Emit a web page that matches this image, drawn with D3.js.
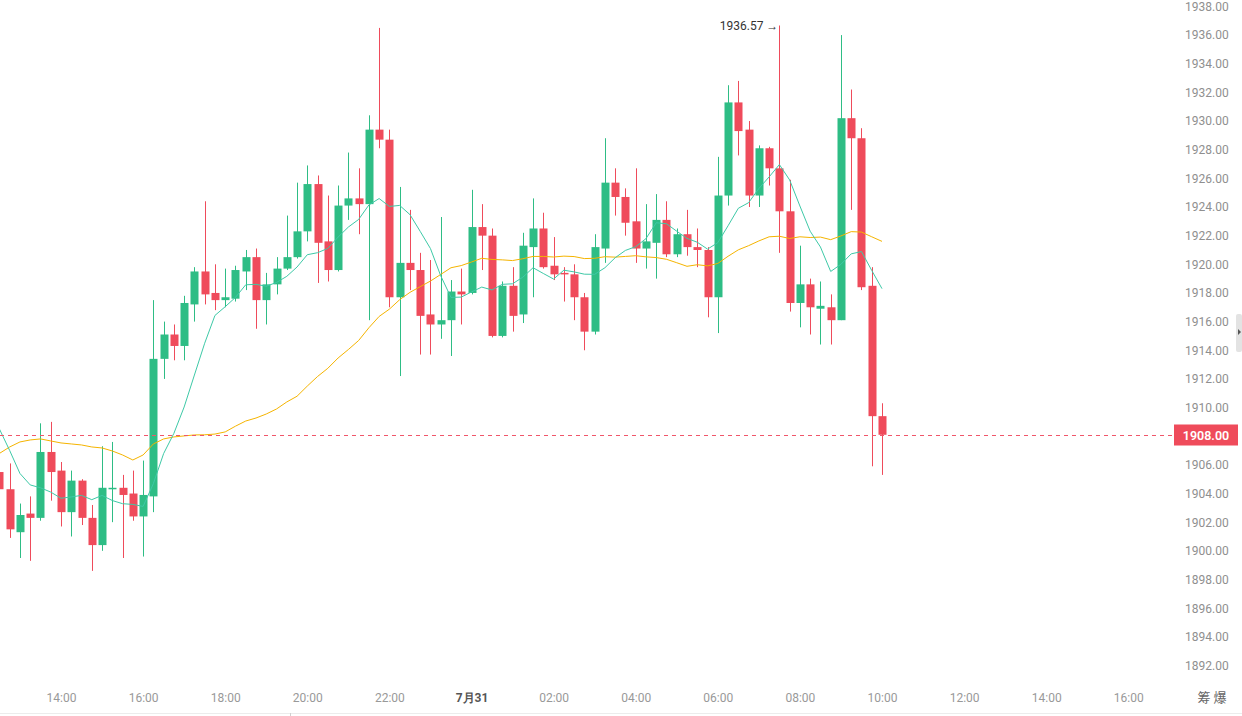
<!DOCTYPE html>
<html>
<head>
<meta charset="utf-8">
<script src="https://cdn.jsdelivr.net/npm/d3@7"></script>
<style>
  html, body { margin: 0; padding: 0; background: #fff; }
  svg { display: block; font-family: Roboto, "Noto Sans", sans-serif; }
</style>
</head>
<body>
<div id="chart"></div>
<script>
// 15-minute candles, 7/30 12:30 -> 7/31 10:00
const candleStart = new Date(2023, 6, 30, 12, 30);
const candleMinutes = 15;

const open = [1905.4,1904.2,1901.2,1902.5,1902.2,1906.8,1905.5,1902.6,1904.8,1902.2,
  1900.3,1904.2,1904.3,1903.9,1902.3,1903.7,1913.3,1915.0,1914.2,1917.1,
  1919.4,1917.9,1917.4,1917.5,1919.4,1920.4,1917.4,1918.5,1919.6,1920.4,
  1922.2,1925.5,1921.5,1919.5,1924.0,1924.5,1924.1,1929.3,1928.6,1917.6,
  1920.0,1919.5,1916.4,1915.7,1916.0,1918.0,1917.9,1922.5,1921.9,1914.9,
  1918.4,1916.4,1921.1,1922.4,1919.8,1919.3,1919.2,1917.6,1915.2,1921.0,
  1925.6,1924.6,1922.9,1921.0,1921.4,1923.0,1920.6,1922.0,1921.1,1920.9,
  1917.6,1924.7,1931.2,1929.3,1924.7,1928.0,1926.6,1923.6,1917.2,1918.5,
  1916.8,1916.9,1916.0,1930.1,1928.7,1918.4,1909.3];

const high = [1906.0,1906.0,1903.2,1903.7,1908.8,1908.9,1906.1,1905.5,1904.9,1903.1,
  1907.2,1907.5,1905.2,1905.5,1906.2,1917.4,1915.9,1915.7,1917.7,1919.7,
  1924.3,1919.9,1919.6,1919.8,1920.9,1921.0,1919.3,1920.4,1923.3,1925.6,
  1926.8,1926.1,1924.7,1925.4,1927.7,1926.6,1930.3,1936.4,1929.3,1925.3,
  1923.7,1920.7,1920.2,1923.2,1918.8,1919.6,1925.1,1924.1,1922.4,1918.7,
  1919.7,1922.1,1924.5,1923.5,1921.8,1919.7,1919.9,1917.9,1922.0,1928.7,
  1926.6,1925.2,1926.6,1924.1,1924.8,1924.3,1922.4,1923.7,1922.4,1921.1,
  1927.4,1932.4,1932.7,1929.9,1928.2,1928.1,1936.57,1925.8,1921.2,1918.9,
  1918.7,1917.8,1935.9,1932.1,1929.4,1919.7,1910.2];

const low = [1903.8,1900.8,1899.4,1899.2,1902.0,1903.4,1901.6,1900.9,1901.7,1898.5,
  1899.9,1901.9,1899.4,1902.0,1899.5,1902.6,1911.9,1913.2,1913.2,1915.9,
  1917.1,1916.7,1916.9,1917.3,1918.1,1915.4,1915.7,1917.8,1919.5,1920.3,
  1921.5,1918.6,1918.7,1919.4,1923.0,1922.0,1916.0,1928.0,1916.9,1912.1,
  1918.1,1913.6,1913.6,1914.7,1913.5,1915.7,1917.8,1919.5,1914.8,1914.8,
  1915.2,1915.8,1917.6,1919.6,1918.8,1917.3,1916.0,1913.9,1915.0,1920.0,
  1923.3,1921.9,1920.0,1919.6,1918.9,1920.4,1920.4,1920.5,1919.7,1916.2,
  1915.1,1924.0,1927.5,1923.9,1923.9,1925.4,1920.7,1916.6,1915.5,1915.0,
  1914.3,1914.3,1916.0,1923.7,1918.1,1905.8,1905.2];

const close = [1904.2,1901.4,1902.4,1902.2,1906.8,1905.4,1902.6,1904.8,1902.2,1900.3,
  1904.3,1904.3,1903.8,1902.3,1903.8,1913.3,1915.0,1914.2,1917.2,1919.4,
  1917.8,1917.4,1917.6,1919.5,1920.4,1917.4,1918.5,1919.6,1920.4,1922.2,
  1925.5,1921.4,1919.5,1924.0,1924.5,1924.1,1929.3,1928.6,1917.6,1920.0,
  1919.5,1916.3,1915.7,1916.0,1918.0,1917.8,1922.5,1921.9,1914.9,1918.4,
  1916.3,1921.2,1922.4,1919.7,1919.2,1919.2,1917.6,1915.2,1921.1,1925.6,
  1924.6,1922.8,1921.0,1921.5,1923.0,1920.6,1922.0,1921.1,1920.9,1917.6,
  1924.7,1931.2,1929.2,1924.7,1928.0,1926.6,1923.6,1917.2,1918.5,1916.9,
  1917.0,1916.0,1930.1,1928.7,1918.3,1909.3,1908.0];

// moving averages (teal = MA7, orange = MA30)
const ma7 = [1908.4,1906.9,1905.3,1904.5,1904.3,1904.0,1903.57,1903.66,1903.77,1903.47,
  1903.77,1903.41,1903.19,1903.14,1903.0,1904.59,1906.69,1908.1,1909.94,1912.17,
  1914.39,1916.33,1916.94,1917.59,1918.47,1918.5,1918.37,1918.63,1919.06,1919.71,
  1920.57,1920.71,1921.01,1921.8,1922.5,1923.03,1924.04,1924.49,1923.94,1924.01,
  1923.37,1922.2,1921.0,1919.1,1917.59,1917.61,1917.97,1918.31,1918.11,1918.5,
  1918.54,1919.0,1919.66,1919.26,1918.87,1919.49,1919.37,1919.21,1919.2,1919.66,
  1920.36,1920.87,1921.13,1921.69,1922.8,1922.73,1922.21,1921.71,1921.44,1920.96,
  1921.41,1922.59,1923.81,1924.2,1925.19,1926.0,1926.86,1925.79,1923.97,1922.21,
  1921.11,1919.4,1919.9,1920.63,1920.79,1919.47,1918.2];

const ma30 = [1906.7,1907.15,1907.5,1907.64,1907.71,1907.57,1907.43,1907.36,1907.29,1907.15,
  1907.08,1906.87,1906.59,1906.24,1906.59,1907.36,1907.71,1907.85,1907.92,1907.99,
  1908.0,1908.05,1908.2,1908.6,1908.96,1909.17,1909.45,1909.8,1910.29,1910.69,
  1911.4,1912.07,1912.64,1913.36,1913.95,1914.58,1915.47,1916.26,1916.77,1917.43,
  1917.94,1918.34,1918.73,1919.19,1919.66,1919.81,1920.06,1920.32,1920.24,1920.21,
  1920.16,1920.29,1920.45,1920.45,1920.41,1920.47,1920.44,1920.3,1920.32,1920.43,
  1920.4,1920.45,1920.5,1920.42,1920.37,1920.25,1920.01,1919.76,1919.87,1919.79,
  1919.96,1920.46,1920.91,1921.2,1921.53,1921.82,1921.86,1921.7,1921.82,1921.77,
  1921.8,1921.62,1921.88,1922.18,1922.15,1921.82,1921.5];

const lastPrice = 1908.00;
const peakLabel = "1936.57";

const yTicks = d3.range(1892, 1938.01, 2);
const xTickLabels = ["14:00","16:00","18:00","20:00","22:00","7月31","02:00",
  "04:00","06:00","08:00","10:00","12:00","14:00","16:00"];
const xTickStart = new Date(2023, 6, 30, 14, 0);

const W = 1242, H = 716;
const UP = "#2ebd85", DOWN = "#ef4b5b";

const times = open.map((_, i) => d3.timeMinute.offset(candleStart, i * candleMinutes));
const bars = times.map((t, i) => ({
  t, o: open[i], h: high[i], l: low[i], c: close[i], m7: ma7[i], m30: ma30[i]
}));

const x = d3.scaleTime()
  .domain([new Date(2023, 6, 30, 14, 0), new Date(2023, 6, 31, 10, 0)])
  .range([61, 882]);

const y = d3.scaleLinear()
  .domain([1892, 1938])
  .range([664, 5]);

const bodyW = 8;

const svg = d3.select("#chart").append("svg")
  .attr("width", W)
  .attr("height", H);

// candles
const g = svg.append("g");

g.selectAll(".wick")
  .data(bars)
  .enter()
  .append("line")
  .attr("class", "wick")
  .attr("x1", d => Math.round(x(d.t)) + 0.5)
  .attr("x2", d => Math.round(x(d.t)) + 0.5)
  .attr("y1", d => y(d.h))
  .attr("y2", d => y(d.l))
  .attr("stroke", d => d.c >= d.o ? UP : DOWN)
  .attr("stroke-width", 1);

g.selectAll(".body")
  .data(bars)
  .enter()
  .append("rect")
  .attr("class", "body")
  .attr("x", d => Math.round(x(d.t)) - bodyW / 2 + 0.5)
  .attr("width", bodyW)
  .attr("y", d => y(Math.max(d.o, d.c)))
  .attr("height", d => Math.max(1.5, Math.abs(y(d.o) - y(d.c))))
  .attr("fill", d => d.c >= d.o ? UP : DOWN);

// moving averages
const maLine = key => d3.line()
  .x(d => x(d.t))
  .y(d => y(d[key]));

svg.append("path")
  .datum(bars)
  .attr("fill", "none")
  .attr("stroke", "#f5b400")
  .attr("stroke-width", 1)
  .attr("d", maLine("m30"));

svg.append("path")
  .datum(bars)
  .attr("fill", "none")
  .attr("stroke", "#3ec9a7")
  .attr("stroke-width", 1)
  .attr("d", maLine("m7"));

// last price line + tag
const yLast = Math.round(y(lastPrice)) + 0.5;
svg.append("line")
  .attr("x1", 0).attr("x2", 1174)
  .attr("y1", yLast).attr("y2", yLast)
  .attr("stroke", "#f0566a")
  .attr("stroke-width", 1)
  .attr("stroke-dasharray", "4,4");

svg.append("rect")
  .attr("x", 1174).attr("y", yLast - 11)
  .attr("width", 64).attr("height", 21)
  .attr("fill", DOWN);

svg.append("text")
  .attr("x", 1206).attr("y", yLast)
  .attr("dy", "0.35em")
  .attr("text-anchor", "middle")
  .attr("fill", "#fff")
  .attr("font-size", 12.5)
  .attr("font-weight", 600)
  .text(d3.format(".2f")(lastPrice));

// peak annotation
const peak = bars[d3.maxIndex(bars, d => d.h)];
svg.append("text")
  .attr("x", x(peak.t) - 1)
  .attr("y", y(peak.h))
  .attr("dy", "0.35em")
  .attr("text-anchor", "end")
  .attr("fill", "#333")
  .attr("font-size", 12)
  .text(peakLabel + " \u2192");

// right price axis
const yAxis = svg.append("g")
  .attr("transform", "translate(1182,1.5)")
  .call(d3.axisRight(y).tickValues(yTicks).tickSize(0).tickPadding(3)
    .tickFormat(d3.format(".2f")));
yAxis.select(".domain").remove();
yAxis.selectAll("text")
  .attr("fill", "#8f8f8f")
  .attr("font-size", 12)
  .attr("font-family", "Roboto, sans-serif");
// the live tag sits on top of the 1908 label
yAxis.selectAll(".tick").filter(d => d === lastPrice).remove();

// time axis
const xTicks = xTickLabels.map((_, i) => d3.timeHour.offset(xTickStart, i * 2));
const xAxis = svg.append("g")
  .attr("transform", "translate(0,690)")
  .call(d3.axisBottom(x).tickValues(xTicks).tickSize(0).tickPadding(3)
    .tickFormat((d, i) => xTickLabels[i]));
xAxis.select(".domain").remove();
xAxis.selectAll("text")
  .attr("fill", d => d.getHours() === 0 ? "#555" : "#999")
  .attr("font-weight", d => d.getHours() === 0 ? 700 : 400)
  .attr("font-size", 12)
  .attr("font-family", "Roboto, sans-serif");

svg.append("text")
  .attr("x", 1212).attr("y", 702)
  .attr("text-anchor", "middle")
  .attr("fill", "#666")
  .attr("font-size", 13)
  .attr("font-family", "'Noto Sans CJK SC', sans-serif")
  .text("筹  爆");

// bottom border + small scroll marker
svg.append("line")
  .attr("x1", 0).attr("x2", W)
  .attr("y1", 713.5).attr("y2", 713.5)
  .attr("stroke", "#ececec");
svg.append("line")
  .attr("x1", 290.5).attr("x2", 290.5)
  .attr("y1", 713).attr("y2", 716)
  .attr("stroke", "#d0d0d0");

// right edge collapse tab
svg.append("rect")
  .attr("x", 1236).attr("y", 314)
  .attr("width", 6).attr("height", 38)
  .attr("rx", 2)
  .attr("fill", "#e3e3e3");
svg.append("path")
  .attr("d", "M1238,329 L1241,332 L1238,335 Z")
  .attr("fill", "#555");
</script>
</body>
</html>
